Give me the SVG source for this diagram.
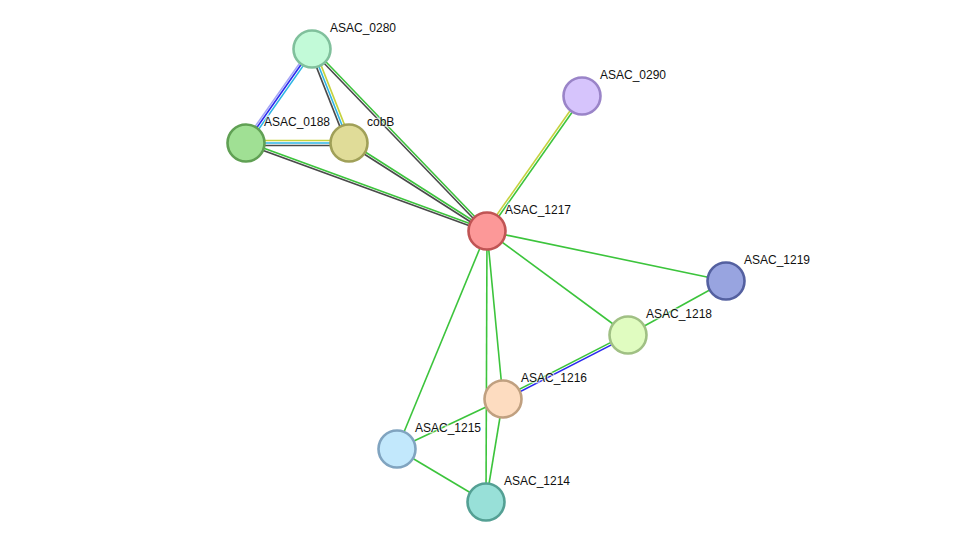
<svg xmlns="http://www.w3.org/2000/svg" width="976" height="548" viewBox="0 0 976 548">
<style>
.e line{stroke-width:1.6;fill:none}
.g{stroke:#3cc43c}
.k{stroke:#4a4a4a}
.y{stroke:#c6d23e}
.c{stroke:#2db4e4}
.b{stroke:#2a2aee}
.p{stroke:#a6a6f6}
.n circle{stroke-width:2.6}
.n text{font-family:"Liberation Sans",Arial,sans-serif;font-size:12px;fill:#111;stroke:#fff;stroke-width:2.5;stroke-opacity:0.6;paint-order:stroke}
</style>
<rect width="976" height="548" fill="#fff"/>
<g id="connectors" class="e">
<line class="p" x1="310.4" y1="47.9" x2="244.4" y2="141.9"/>
<line class="b" x1="312" y1="49" x2="246" y2="143"/>
<line class="c" x1="314" y1="50.4" x2="248" y2="144.4"/>
<line class="k" x1="309.7" y1="49.9" x2="346.7" y2="143.9"/>
<line class="c" x1="312" y1="49" x2="349" y2="143"/>
<line class="y" x1="314.3" y1="48.1" x2="351.3" y2="142.1"/>
<line class="g" x1="312.9" y1="48.2" x2="487.9" y2="230.2"/>
<line class="k" x1="311.1" y1="49.8" x2="486.1" y2="231.8"/>
<line class="y" x1="246" y1="140.5" x2="349" y2="140.5"/>
<line class="c" x1="246" y1="143" x2="349" y2="143"/>
<line class="k" x1="246" y1="145.5" x2="349" y2="145.5"/>
<line class="g" x1="246.4" y1="141.9" x2="487.4" y2="229.9"/>
<line class="k" x1="245.6" y1="144.1" x2="486.6" y2="232.1"/>
<line class="g" x1="349.6" y1="142" x2="487.6" y2="230"/>
<line class="k" x1="348.4" y1="144" x2="486.4" y2="232"/>
<line class="y" x1="581" y1="95.3" x2="486" y2="230.3"/>
<line class="g" x1="583" y1="96.7" x2="488" y2="231.7"/>
<line class="g" x1="487" y1="231" x2="726" y2="281"/>
<line class="g" x1="487" y1="231" x2="628" y2="335"/>
<line class="g" x1="487" y1="231" x2="503" y2="399"/>
<line class="g" x1="487" y1="231" x2="486" y2="502"/>
<line class="g" x1="487" y1="231" x2="397" y2="449"/>
<line class="g" x1="726" y1="281" x2="628" y2="335"/>
<line class="g" x1="627.5" y1="333.9" x2="502.5" y2="397.9"/>
<line class="b" x1="628.5" y1="336.1" x2="503.5" y2="400.1"/>
<line class="g" x1="503" y1="399" x2="397" y2="449"/>
<line class="g" x1="503" y1="399" x2="486" y2="502"/>
<line class="g" x1="397" y1="449" x2="486" y2="502"/>
</g>
<g id="ASAC_0280" class="n"><circle cx="312" cy="49" r="18.5" fill="#c2fad8" stroke="#80c09c"/><text x="330" y="32">ASAC_0280</text></g>
<g id="ASAC_0290" class="n"><circle cx="582" cy="96" r="18.5" fill="#d6c4fc" stroke="#9a84c8"/><text x="600" y="79">ASAC_0290</text></g>
<g id="ASAC_0188" class="n"><circle cx="246" cy="143" r="18.5" fill="#a0e094" stroke="#60a054"/><text x="264" y="126">ASAC_0188</text></g>
<g id="cobB" class="n"><circle cx="349" cy="143" r="18.5" fill="#e0dc98" stroke="#a0a058"/><text x="367" y="126">cobB</text></g>
<g id="ASAC_1217" class="n"><circle cx="487" cy="231" r="18.5" fill="#fc9898" stroke="#c05454"/><text x="505" y="214">ASAC_1217</text></g>
<g id="ASAC_1219" class="n"><circle cx="726" cy="281" r="18.5" fill="#98a4e0" stroke="#5460a0"/><text x="744" y="264">ASAC_1219</text></g>
<g id="ASAC_1218" class="n"><circle cx="628" cy="335" r="18.5" fill="#e0fcc0" stroke="#a0c084"/><text x="646" y="318">ASAC_1218</text></g>
<g id="ASAC_1216" class="n"><circle cx="503" cy="399" r="18.5" fill="#fddcc0" stroke="#c0a080"/><text x="521" y="382">ASAC_1216</text></g>
<g id="ASAC_1215" class="n"><circle cx="397" cy="449" r="18.5" fill="#c2e8fc" stroke="#80a4c0"/><text x="415" y="432">ASAC_1215</text></g>
<g id="ASAC_1214" class="n"><circle cx="486" cy="502" r="18.5" fill="#98e0d8" stroke="#54a094"/><text x="504" y="485">ASAC_1214</text></g>
</svg>
